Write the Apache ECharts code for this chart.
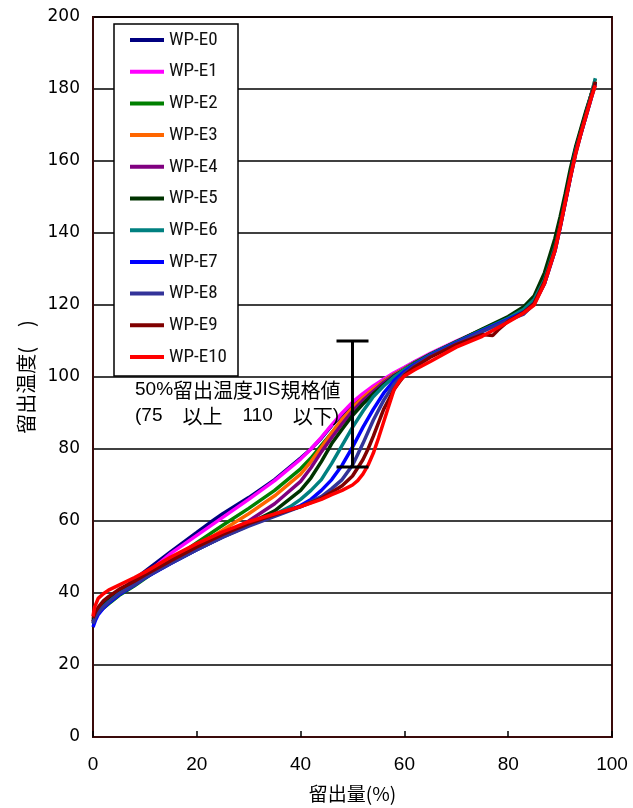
<!DOCTYPE html>
<html>
<head>
<meta charset="utf-8">
<script src="https://cdn.jsdelivr.net/npm/echarts@6/dist/echarts.min.js"></script>
<style>html,body{margin:0;padding:0;background:#fff}#c{width:633px;height:808px}</style>
</head>
<body>
<div id="c"></div>
<script>
const seriesNames = ['WP-E0','WP-E1','WP-E2','WP-E3','WP-E4','WP-E5','WP-E6','WP-E7','WP-E8','WP-E9','WP-E10'];
const xTicks = [0,20,40,60,80,100];
const yTicks = [0,20,40,60,80,100,120,140,160,180,200];

const e0 = [[0,32],[0.5,34],[1,35],[2,36.5],[3,37.8],[5,40.3],[8,43.8],[10,46],[15,51.5],[20,56.8],[22.5,59.5],[25,62],[30,66.5],[35,71.5],[40,77.5],[42,80],[44,83],[46,86.5],[48,89.5],[50,92.5],[52,95],[54,97],[56,99],[58,100.8],[60,102.5],[62,104.2],[65,106.3],[70,109.7],[75,113],[80,116.3],[83,118.8],[85,121.5],[87,127],[89,136],[90,142],[91,149],[92,156],[93,163],[94,168],[95,173],[96,178],[96.8,182]];
const e1 = [[0,32.5],[0.5,34],[1,35],[2,36.5],[3,37.8],[5,40],[8,43],[10,45],[15,51],[20,56],[25,61],[30,66],[35,71.2],[40,77.2],[42,80],[44,83.2],[46,86.7],[48,90],[50,93],[52,95.4],[54,97.5],[56,99.4],[58,101.2],[60,102.7],[62,104.3],[65,106.6],[70,110],[75,113.2],[80,116.4],[83,118.8],[85,121.5],[87,127.2],[89,136.5],[90,142.5],[91,149.5],[92,156.5],[93,163],[94,168.5],[95,173.5],[96,178.5],[96.8,182]];
const e2 = [[0,32],[0.5,33.5],[1,34.5],[2,35.8],[3,37],[5,39.3],[8,42],[10,44],[15,49],[20,54],[25,58.8],[30,63.5],[35,68.5],[40,74.5],[42,77.5],[44,81],[46,84.5],[48,88],[50,91.3],[52,94],[54,96.5],[56,98.8],[58,100.7],[60,102.3],[62,104],[65,106.3],[70,109.8],[75,113.2],[80,116.5],[83,119.2],[85,122],[87,128],[89,137],[90,143],[91,150],[92,157],[93,163.5],[94,168.5],[95,173.5],[96,178.5],[96.8,182]];
const e3 = [[0,32],[0.5,34],[1,35],[2,36.5],[3,37.5],[5,39.8],[8,42.5],[10,44.5],[15,48.8],[20,53],[25,57.5],[30,62],[35,67],[40,73],[42,76.5],[44,80.5],[46,84.5],[48,88.3],[50,91.5],[52,94.3],[54,96.7],[56,98.8],[58,100.7],[60,102.2],[62,103.8],[65,106.2],[70,109.6],[75,112.9],[80,116.2],[83,118.7],[85,121.3],[87,127],[89,136],[90,142],[91,149],[92,156],[93,163],[94,168],[95,173.2],[96,178.5],[96.8,182.8]];
const e4 = [[0,32],[0.5,34],[1,35],[2,36.5],[3,37.8],[5,40],[8,42.5],[10,44.5],[15,48.5],[20,52.3],[25,56],[30,60],[35,64.8],[40,71],[42,74.8],[44,79.2],[46,83.2],[48,87],[50,90.5],[52,93.5],[54,96],[56,98.5],[58,100.5],[60,102],[62,103.8],[65,106.2],[70,109.7],[75,113],[80,116.3],[83,118.8],[85,121.5],[87,127],[89,136],[90,142],[91,149],[92,156],[93,162.5],[94,168],[95,173],[96,178],[96.8,182]];
const e5 = [[0,32.5],[0.5,34.2],[1,35.3],[2,36.8],[3,38],[5,40.3],[8,42.8],[10,44.8],[15,48.8],[20,52.5],[25,56],[30,59.2],[35,62.8],[40,68.5],[42,72],[44,76.5],[46,81.5],[48,85.5],[50,89.3],[52,92.5],[54,95.3],[56,97.8],[58,100.2],[60,102],[62,103.8],[65,106.3],[70,109.8],[75,113.3],[80,116.8],[83,119.5],[85,122.5],[87,129],[89,138.5],[90,144.5],[91,151],[92,158],[93,164],[94,169],[95,174],[96,178.5],[96.8,182]];
const e6 = [[0,31.5],[0.5,33.3],[1,34.5],[2,36.2],[3,37.5],[5,39.8],[8,42.3],[10,44.3],[15,48.3],[20,52],[25,55.6],[30,58.8],[35,61.8],[38,64],[40,66],[42,68.5],[44,71.5],[46,76],[48,81],[50,86],[52,90.5],[54,94.5],[56,97.5],[58,100],[60,102],[62,103.7],[65,106.2],[70,109.7],[75,113],[80,116.3],[83,118.8],[85,121.5],[87,127],[89,136],[90,142],[91,149],[92,156],[93,163],[94,168],[95,173],[96,178.5],[96.8,183]];
const e7 = [[0,30.5],[0.5,32.5],[1,34],[2,35.8],[3,37.2],[5,39.5],[8,42.2],[10,44.2],[15,48.2],[20,52],[25,55.6],[30,58.8],[35,61.5],[40,64.3],[42,66],[44,68.5],[46,71.5],[48,75.5],[50,80.5],[52,86],[54,91],[56,95.5],[58,99],[60,101.5],[62,103.5],[65,106],[70,109.5],[75,112.8],[80,116],[83,118],[85,120.5],[87,126],[89,135],[90,141.5],[91,148.5],[92,155.5],[93,162.5],[94,167.5],[95,172.5],[96,177.5],[96.8,181.5]];
const e8 = [[0,31.5],[0.5,33.3],[1,34.5],[2,36.2],[3,37.5],[5,39.8],[8,42.3],[10,44.3],[15,48.3],[20,52],[25,55.5],[30,58.6],[35,61.3],[40,64],[44,66.8],[46,69],[48,71.5],[50,75.5],[51,78.5],[52,81.5],[54,88],[56,93.5],[58,98],[60,101],[62,103.2],[65,105.8],[70,109.3],[75,112.6],[80,115.8],[83,117.5],[85,120.3],[87,126],[89,135],[90,141.5],[91,148.5],[92,155.5],[93,162],[94,167.5],[95,172.5],[96,177.5],[96.8,181.5]];
const e9 = [[0,33],[0.5,34.8],[1,36],[2,37.8],[3,39],[5,41],[8,43.3],[10,45],[15,49],[20,52.8],[25,56.3],[30,59.3],[35,61.8],[40,64],[44,66.3],[46,68],[48,69.8],[50,72.5],[52,77],[53,80],[54,83.5],[56,91],[58,96.5],[60,100.5],[62,102.8],[65,105.5],[70,109],[75,111.8],[77,111.5],[78,113],[80,115.5],[83,118],[85,120.5],[87,126.5],[89,135.5],[90,142],[91,149],[92,156],[93,162.5],[94,168],[95,173],[96,178],[96.8,182]];
const e10 = [[0,33.5],[0.3,36],[1,38.5],[2,39.8],[3,40.8],[5,42.2],[8,44.3],[10,45.8],[15,50],[20,53.7],[25,57],[30,59.8],[35,62],[40,64],[44,66],[46,67.3],[48,68.5],[50,70],[51,71.2],[52,73],[53,75.5],[54,78.8],[55,83],[56,87.5],[57,92],[58,96.5],[59,98.8],[60,100.3],[62,102],[65,104.3],[70,108.3],[75,111.3],[80,115.3],[83,117.8],[85,120],[87,126],[89,135],[90,141.5],[91,148.5],[92,155.5],[93,162],[94,167.5],[95,172.5],[96,177.5],[96.8,181]];
const seriesData = [e0,e1,e2,e3,e4,e5,e6,e7,e8,e9,e10];
const colors = ['#000080','#ff00ff','#008000','#ff6600','#800080','#003300','#008080','#0000ff','#333399','#800000','#ff0000'];

// JIS spec: 50% distillation temperature between 75 and 110
const specBar = [[50,75,110]];

const chart = echarts.init(document.getElementById('c'), null, {renderer:'canvas'});

const lineSeries = seriesNames.map((n,i)=>({
  name:n, type:'line', data:seriesData[i], symbol:'none', showSymbol:false,
  lineStyle:{color:colors[i], width:3.5}, itemStyle:{color:colors[i]}, z:2+i*0.01
}));

const option = {
  animation:false,
  backgroundColor:'#fff',
  grid:{left:93, right:21, top:17, bottom:71, show:true, borderColor:'#3a0a0a', borderWidth:2, backgroundColor:'transparent'},
  xAxis:{type:'value', min:0, max:100, interval:20,
    name:'留出量(%)', nameLocation:'middle', nameGap:47,
    nameTextStyle:{fontSize:19, color:'#000', fontFamily:'"Noto Sans CJK JP", sans-serif'},
    axisLine:{show:true, lineStyle:{color:'#3a0a0a', width:2}},
    axisTick:{show:true, inside:true, length:6, lineStyle:{color:'#000', width:1.5}},
    axisLabel:{fontSize:19, color:'#000', margin:18, fontFamily:'"Liberation Sans", Arial, sans-serif'},
    splitLine:{show:false}},
  yAxis:{type:'value', min:0, max:200, interval:20,
    name:'留出温度(　)', nameLocation:'middle', nameGap:55,
    nameTextStyle:{fontSize:20, color:'#000', fontFamily:'"Noto Sans CJK JP", sans-serif'},
    axisLine:{show:true, lineStyle:{color:'#3a0a0a', width:2}},
    axisTick:{show:false},
    axisLabel:{fontSize:17, color:'#000', margin:13, fontFamily:'"DejaVu Sans", sans-serif'},
    splitLine:{show:true, lineStyle:{color:'#000', width:1.5}}},
  legend:{
    data:seriesNames, orient:'vertical', left:114, top:24,
    padding:[6,10,9,16], itemWidth:34, itemHeight:4, itemGap:11.7, icon:'rect',
    textStyle:{fontSize:19, lineHeight:20, color:'#111', fontFamily:'"Liberation Sans Narrow", "Arial Narrow", "Roboto Condensed", sans-serif'},
    z:5, selectedMode:false
  },
  graphic:[
    {type:'rect', z:3, shape:{x:114, y:24, width:124, height:352}, style:{fill:'#fff', stroke:'#000', lineWidth:1.5}},
    {type:'text', z:6, left:135, top:380, style:{
      text:'{l|50%}{c|留出温度}{l|JIS}{c|規格値}\n{l|(75}{c|　以上　}{l|110}{c|　以下}{l|)}',
      rich:{
        l:{fontSize:19, fontFamily:'"Liberation Sans", Arial, sans-serif', fill:'#000', lineHeight:26},
        c:{fontSize:20, fontFamily:'"Noto Sans CJK JP", sans-serif', fill:'#000', lineHeight:26}
      }}}
  ],
  series:[...lineSeries, {
    type:'custom', name:'spec', data:specBar, z:10,
    renderItem:function(params, api){
      const x = api.value(0), lo = api.value(1), hi = api.value(2);
      const p1 = api.coord([x, lo]), p2 = api.coord([x, hi]);
      const st = {stroke:'#000', lineWidth:3};
      return {type:'group', children:[
        {type:'line', shape:{x1:p1[0], y1:p1[1], x2:p2[0], y2:p2[1]}, style:st},
        {type:'line', shape:{x1:p1[0]-16, y1:p1[1], x2:p1[0]+16, y2:p1[1]}, style:st},
        {type:'line', shape:{x1:p2[0]-16, y1:p2[1], x2:p2[0]+16, y2:p2[1]}, style:st}
      ]};
    }
  }]
};
chart.setOption(option);
</script>
</body>
</html>
